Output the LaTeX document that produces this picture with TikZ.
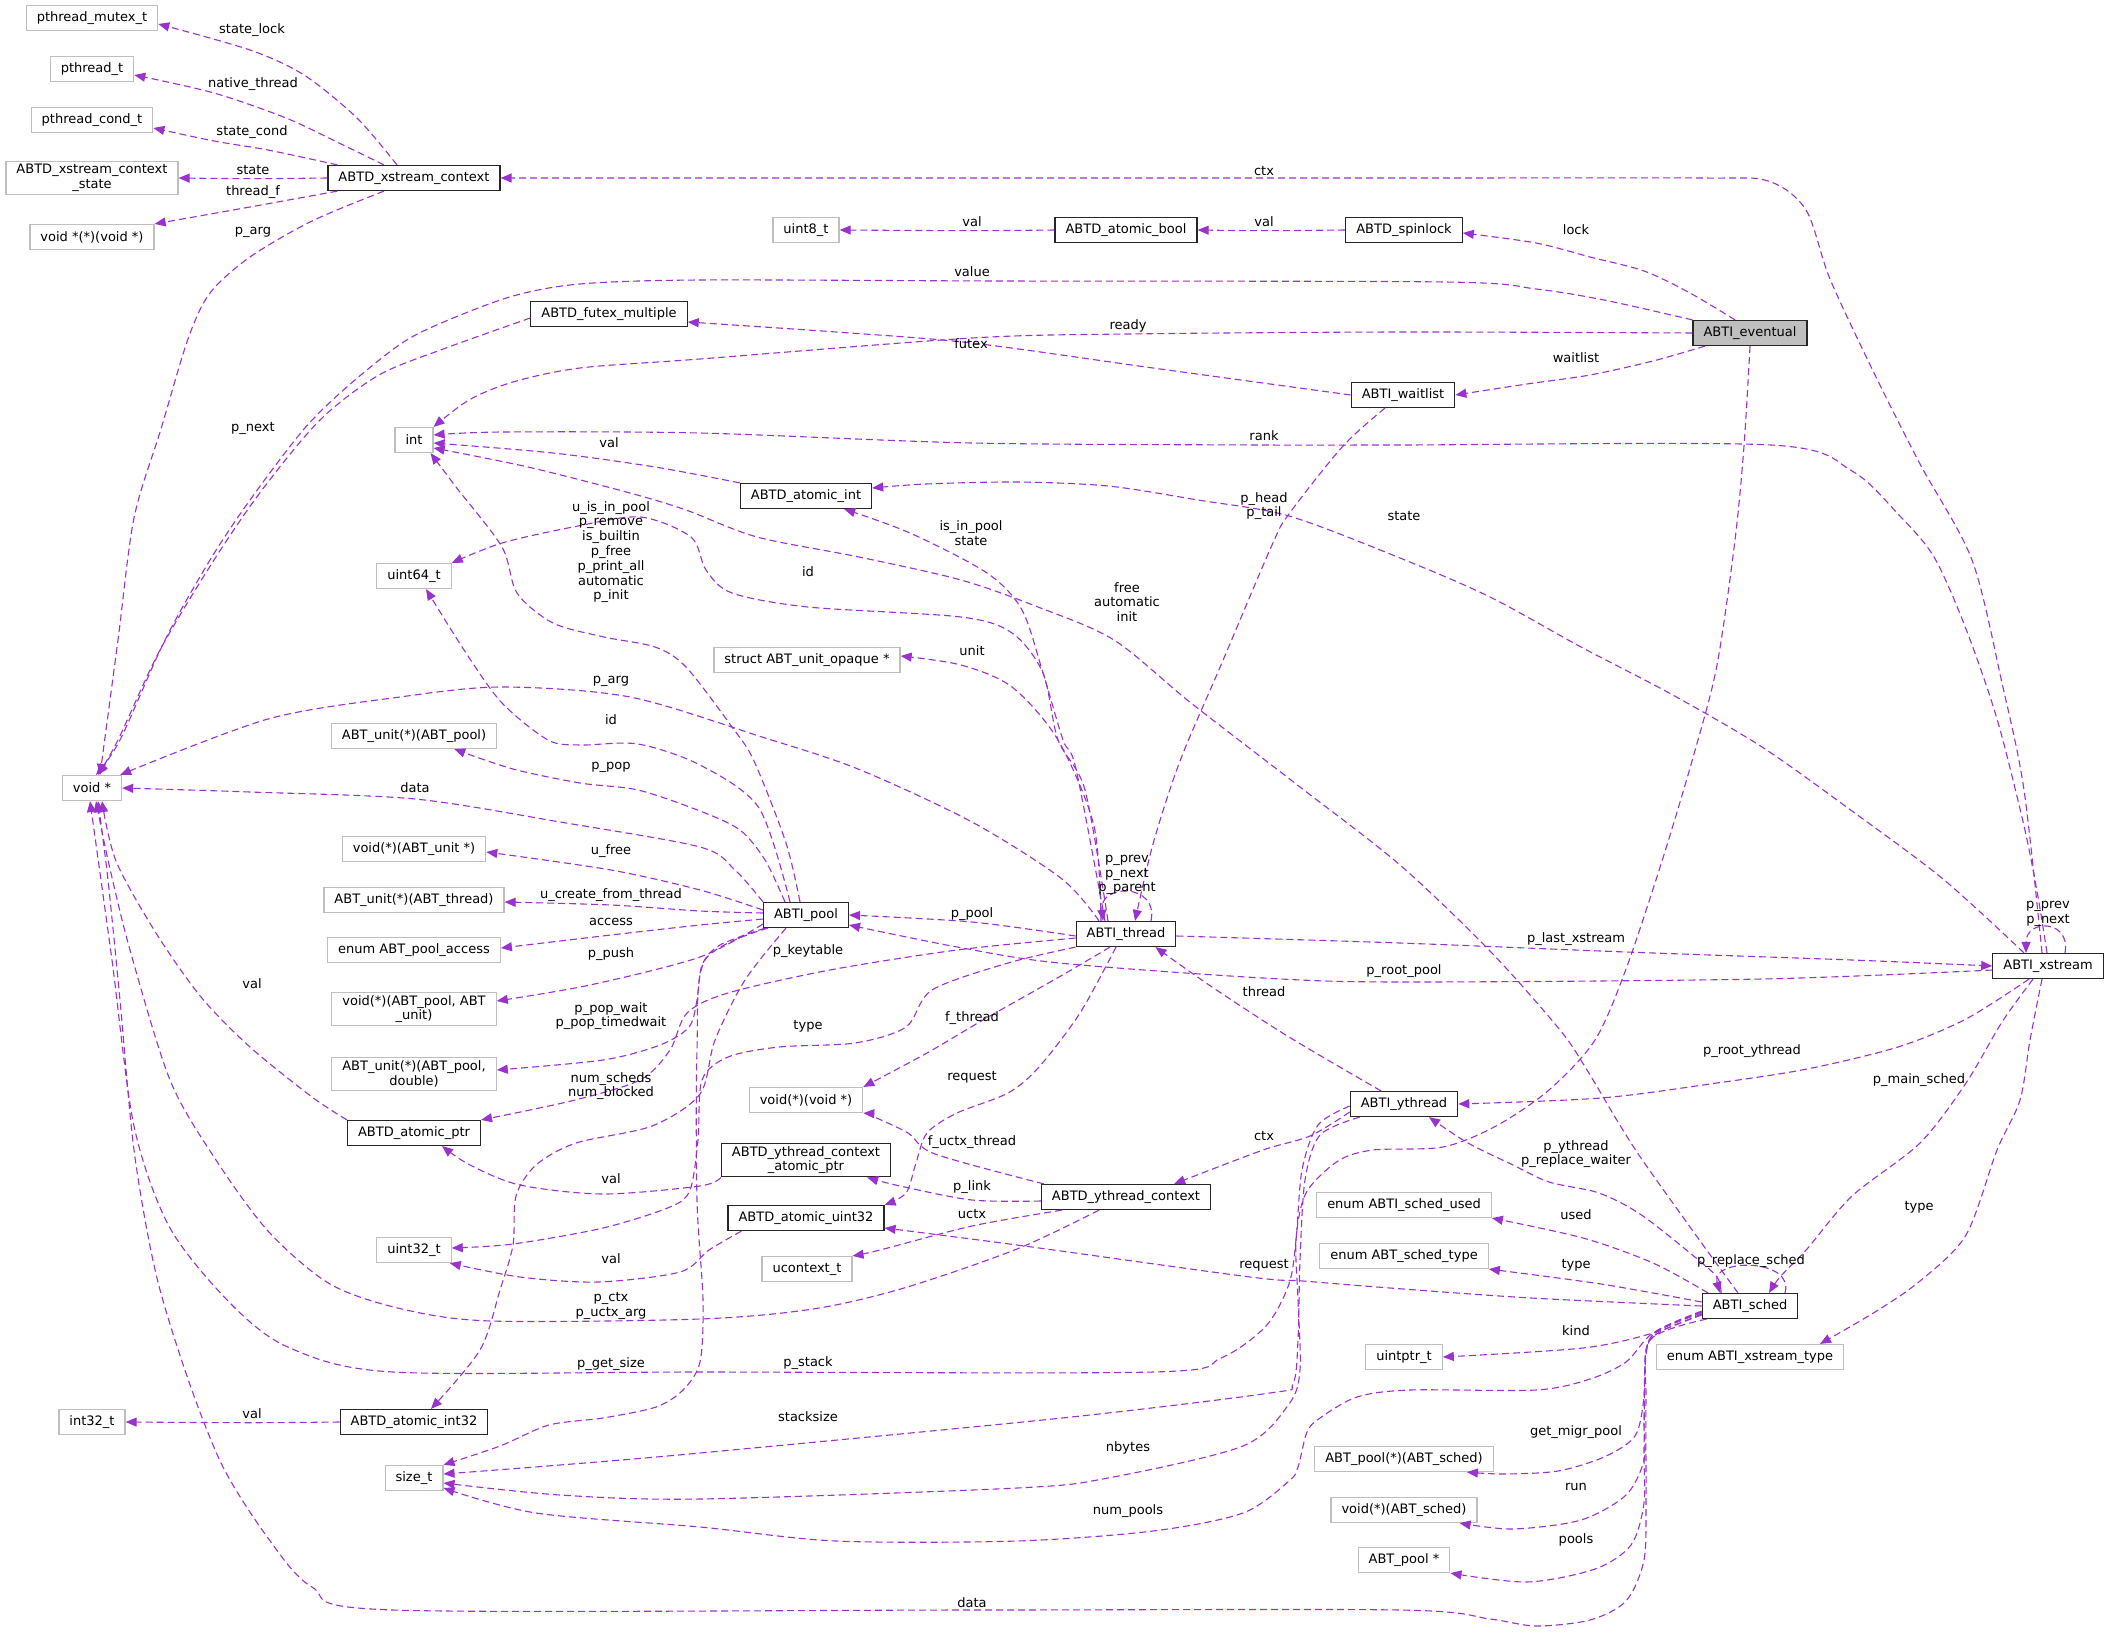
\documentclass[tikz,border=0pt]{standalone}
\usepackage{fontspec}
\setmainfont{DejaVu Sans}
\usepackage{xcolor}
\usepackage{tikz}
\usetikzlibrary{arrows.meta}

\definecolor{edgec}{HTML}{9A32CD}
\definecolor{grayb}{HTML}{BFBFBF}
\newcommand{\dxfont}{\fontsize{13pt}{14.8pt}\selectfont}

\tikzset{
  cls/.style={draw=black!85, line width=1.2pt, fill=white, font=\dxfont, align=center,
    minimum height=25pt, inner xsep=10.5pt, inner ysep=3pt},
  ext/.style={cls, draw=grayb},
  focus/.style={cls, fill=grayb},
  lbl/.style={font=\dxfont, align=center, inner sep=0pt},
  mem/.style={draw=edgec, line width=1.1pt, dash pattern=on 7pt off 4pt,
    -{Triangle[length=11pt,width=9pt]}}
}

\begin{document}
\begin{tikzpicture}[x=1pt, y=-1pt]
  \path[use as bounding box, fill=white] (0,0) rectangle (2109,1632);

  % left column
  \node[ext] (mutex) at (92,18) {pthread\_mutex\_t};
  \node[ext] (pthr) at (92,69) {pthread\_t};
  \node[ext] (cond) at (92,120) {pthread\_cond\_t};
  \node[ext] (xstate) at (92,178) {ABTD\_xstream\_context\\\_state};
  \node[ext] (tfn) at (92,237) {void *(*)(void *)};
  \node[ext] (voidp) at (92,788) {void *};
  \node[ext] (i32) at (92,1422) {int32\_t};

  % second column
  \node[cls] (xctx) at (414,178) {ABTD\_xstream\_context};
  \node[ext] (int) at (414,440) {int};
  \node[ext] (u64) at (414,576) {uint64\_t};
  \node[ext] (fpop) at (414,736) {ABT\_unit(*)(ABT\_pool)};
  \node[ext] (ufree) at (414,849) {void(*)(ABT\_unit *)};
  \node[ext] (ucft) at (414,900) {ABT\_unit(*)(ABT\_thread)};
  \node[ext] (acc) at (414,950) {enum ABT\_pool\_access};
  \node[ext] (push) at (414,1009) {void(*)(ABT\_pool, ABT\\\_unit)};
  \node[ext] (fpw) at (414,1074) {ABT\_unit(*)(ABT\_pool,\\double)};
  \node[cls] (aptr) at (414,1133) {ABTD\_atomic\_ptr};
  \node[ext] (u32) at (414,1250) {uint32\_t};
  \node[cls] (ai32) at (414,1422) {ABTD\_atomic\_int32};
  \node[ext] (size) at (414,1478) {size\_t};
  \node[cls] (futex) at (609,314) {ABTD\_futex\_multiple};

  % third column
  \node[ext] (u8) at (806,230) {uint8\_t};
  \node[cls] (aint) at (806,496) {ABTD\_atomic\_int};
  \node[ext] (unitop) at (807,660) {struct ABT\_unit\_opaque *};
  \node[cls] (pool) at (806,915) {ABTI\_pool};
  \node[ext] (voidv) at (806,1100) {void(*)(void *)};
  \node[cls] (ycap) at (806,1160) {ABTD\_ythread\_context\\\_atomic\_ptr};
  \node[cls] (auint) at (806,1218) {ABTD\_atomic\_uint32};
  \node[ext] (ucon) at (807,1269) {ucontext\_t};

  % fourth column
  \node[cls] (abool) at (1126,230) {ABTD\_atomic\_bool};
  \node[cls] (thread) at (1126,934) {ABTI\_thread};
  \node[cls] (yctx) at (1126,1197) {ABTD\_ythread\_context};

  % fifth column
  \node[cls] (spin) at (1404,230) {ABTD\_spinlock};
  \node[cls] (wait) at (1403,395) {ABTI\_waitlist};
  \node[cls] (ythread) at (1404,1104) {ABTI\_ythread};
  \node[ext] (sused) at (1404,1205) {enum ABTI\_sched\_used};
  \node[ext] (stype) at (1404,1256) {enum ABT\_sched\_type};
  \node[ext] (uptr) at (1404,1357) {uintptr\_t};
  \node[ext] (migr) at (1404,1459) {ABT\_pool(*)(ABT\_sched)};
  \node[ext] (run) at (1404,1510) {void(*)(ABT\_sched)};
  \node[ext] (ppool) at (1404,1560) {ABT\_pool *};

  % right columns
  \node[focus] (evt) at (1750,333) {ABTI\_eventual};
  \node[cls] (sched) at (1750,1306) {ABTI\_sched};
  \node[ext] (xtype) at (1750,1357) {enum ABTI\_xstream\_type};
  \node[cls] (xs) at (2048,966) {ABTI\_xstream};

  % ABTD_xstream_context members
  \draw[mem] plot[smooth] coordinates {([xshift=-17pt]xctx.north) (357,118) (304,75) (250,50) ([yshift=-6pt]mutex.east)};
  \draw[mem] plot[smooth] coordinates {([xshift=-30pt]xctx.north) (339,143) (286,118) (214,93) ([yshift=-6pt]pthr.east)};
  \draw[mem] plot[smooth] coordinates {([xshift=10pt]xctx.north west) (268,150) (214,141) ([yshift=-8pt]cond.east)};
  \draw[mem] plot[smooth] coordinates {(xctx.west) (253,178.7) (xstate.east)};
  \draw[mem] plot[smooth] coordinates {([xshift=10pt]xctx.south west) (250,207) (tfn.north east)};
  \draw[mem] plot[smooth] coordinates {([xshift=-30pt]xctx.south) (312,221) (250,257) (210,293) (188,339) (161,429) (134,518) (118,640) ([xshift=8pt]voidp.north)};

  % futex, spinlock, bool
  \draw[mem] plot[smooth] coordinates {([yshift=-4pt]futex.west) (446,348) (379,375) (320,420) (262,490) (214,560) (160,650) (118,740) ([xshift=6pt]voidp.north)};
  \draw[mem] plot[smooth] coordinates {(spin.west) (1264,230.7) (abool.east)};
  \draw[mem] plot[smooth] coordinates {(abool.west) (972,230.7) (u8.east)};

  % ABTI_eventual members
  \draw[mem] plot[smooth] coordinates {(evt.north west) (1604,300) (1536,289) (1445,282) (1000,281) (700,280) (580,284) (513,296) (446,321) (402,343) (348,386) (304,429) (250,500) (210,560) (165,640) (120,740) ([xshift=4pt]voidp.north)};
  \draw[mem] plot[smooth] coordinates {(evt.west) (1400,332) (1128,334) (972,338) (700,359) (580,368) (513,382) (469,400) (int.north east)};
  \draw[mem] plot[smooth] coordinates {([xshift=-15pt]evt.north) (1690,293) (1644,271) (1590,257) (1536,243) ([yshift=-3pt]spin.east)};
  \draw[mem] plot[smooth] coordinates {([xshift=-45pt]evt.south) (1653,361) (1590,375) (1527,384) (wait.east)};
  \draw[mem] plot[smooth] coordinates {(evt.south) (1744,446) (1735,540) (1717,665) (1694,754) (1662,861) (1626,969) (1595,1040) (1549,1090) (1496,1126) (1443,1147) (1373,1150) (1338,1161) (1306,1193) (1296,1240) (1298,1300) (1300,1370) (1289,1404) (1243,1446) (1108,1478) (1017,1488) (700,1499) (560,1495) ([yshift=-5pt]size.east)};

  % ABTI_waitlist members
  \draw[mem] plot[smooth] coordinates {(wait.west) (1153,368) (972,343) (836,332) ([yshift=-8pt]futex.east)};
  \draw[mem] plot[smooth] coordinates {([xshift=-18pt]wait.south) (1343,446) (1289,514) (1272,545) (1221,665) (1180,761) (1153,844) ([xshift=9pt]thread.north)};

  % ABTD_atomic_int
  \draw[mem] plot[smooth] coordinates {(aint.north west) (655,467) (553,453) ([yshift=-3pt]int.east)};

  % ABTI_xstream members
  \draw[mem] plot[smooth] coordinates {([xshift=-6pt]xs.north) (2024,790) (2002,683) (1972,560) (1920,464) (1875,375) (1830,279) (1806,210) (1768,181) (1700,178) (1400,178) (xctx.east)};
  \draw[mem] plot[smooth] coordinates {([xshift=-1pt]xs.north) (2038,897) (2024,826) (1997,719) (1966,629) (1934,557) (1898,514) (1852,471) (1771,445) (1400,445) (1264,445) (972,443) (700,433) (502,432) ([yshift=5pt]int.east)};
  \draw[mem] plot[smooth] coordinates {([xshift=-24pt]xs.north) (1943,879) (1852,811) (1762,747) (1671,694) (1581,647) (1490,597) (1400,558) (1289,516) (1198,500) (1108,486) (1017,482) (926,484) ([yshift=8pt]aint.east)};
  \draw[mem] ([xshift=17pt]xs.north) .. controls +(6,-34) and +(0,-34) .. ([xshift=-22pt]xs.north);
  \draw[mem] plot[smooth] coordinates {([xshift=-15pt]xs.south) (2002,1022) (1966,1083) (1920,1143) (1852,1196) (1807,1249) (1780,1277) ([xshift=19pt]sched.north)};
  \draw[mem] plot[smooth] coordinates {([xshift=-6pt]xs.south) (2030,1040) (2020,1100) (1997,1150) (1966,1235) (1920,1281) (1875,1312) ([xshift=70pt]xtype.north)};
  \draw[mem] plot[smooth] coordinates {([xshift=-19pt]xs.south) (1966,1019) (1898,1047) (1807,1069) (1717,1083) (1601,1098) (ythread.east)};
  \draw[mem] plot[smooth] coordinates {([yshift=-4pt]xs.west) (1762,979) (1400,982) (1263,978) (1059,963) (957,947) ([yshift=-10pt]pool.east)};

  % ABTI_thread members
  \draw[mem] plot[smooth] coordinates {([yshift=-2pt]thread.east) (1400,943) (1626,952) (1852,960) (xs.west)};
  \draw[mem] ([xshift=25pt]thread.north) .. controls +(8,-38) and +(-4,-38) .. ([xshift=-23pt]thread.north);
  \draw[mem] plot[smooth] coordinates {([yshift=-2pt]thread.west) (972,922) (pool.east)};
  \draw[mem] plot[smooth] coordinates {([xshift=-27pt]thread.north) (1062,879) (972,822) (858,769) (762,737) (630,697) (502,687) (400,697) (268,719) ([xshift=-2pt]voidp.north east)};
  \draw[mem] plot[smooth] coordinates {([xshift=-18pt]thread.north) (1085,790) (1058,740) (1043,673) (1012,633) (961,617) (808,607) (732,593) (706,570) (691,537) (640,517) (573,527) (502,543) (u64.north east)};
  \draw[mem] plot[smooth] coordinates {([xshift=-25pt]thread.north) (1094,826) (1058,740) (1012,687) (961,665) ([yshift=4pt]unitop.east)};
  \draw[mem] plot[smooth] coordinates {([xshift=-21pt]thread.north) (1076,769) (1063,740) (1043,673) (1022,610) (987,573) (910,533) ([xshift=-28pt]aint.south east)};
  \draw[mem] plot[smooth] coordinates {([xshift=-16pt]thread.south) (1059,977) (983,1020) (927,1053) (voidv.north east)};
  \draw[mem] plot[smooth] coordinates {([xshift=-10pt]thread.south) (1080,1013) (1039,1067) (1008,1093) (957,1113) (927,1133) (916,1163) (906,1193) (auint.north east)};
  \draw[mem] plot[smooth] coordinates {([yshift=-4pt]thread.west) (957,950) (830,970) (728,993) (687,1013) (670,1050) (640,1080) (571,1101) (aptr.north east)};
  \draw[mem] plot[smooth] coordinates {(thread.south west) (1008,963) (932,990) (906,1027) (855,1043) (779,1047) (728,1057) (702,1080) (698,1140) (690,1190) (670,1207) (603,1228) (513,1244) ([yshift=2pt]u32.east)};

  % ABTI_pool members
  \draw[mem] plot[smooth] coordinates {([xshift=-6pt]pool.north) (786,843) (754,761) (732,727) (686,667) (655,647) (604,637) (553,623) (517,593) (502,547) (456,487) ([xshift=-3pt]int.south east)};
  \draw[mem] plot[smooth] coordinates {([xshift=-16pt]pool.north) (759,808) (700,765) (638,744) (580,745) (548,740) (502,703) (466,653) ([xshift=12pt]u64.south)};
  \draw[mem] plot[smooth] coordinates {([xshift=-21pt]pool.north) (765,860) (740,830) (700,811) (638,790) (580,783) (513,769) ([xshift=-43pt]fpop.south east)};
  \draw[mem] plot[smooth] coordinates {(pool.north west) (735,870) (700,847) (560,822) (415,799) (250,792) (voidp.east)};
  \draw[mem] plot[smooth] coordinates {([yshift=5pt]pool.west) (700,890) (611,870) ([yshift=-3pt]ufree.east)};
  \draw[mem] plot[smooth] coordinates {([yshift=2pt]pool.west) (700,911) (611,905) ([yshift=-2pt]ucft.east)};
  \draw[mem] plot[smooth] coordinates {([yshift=-4pt]pool.west) (700,925) (611,935) ([yshift=2pt]acc.east)};
  \draw[mem] plot[smooth] coordinates {([yshift=-9pt]pool.west) (700,957) (590,985) ([yshift=8pt]push.east)};
  \draw[mem] plot[smooth] coordinates {([xshift=2pt]pool.south west) (720,945) (702,965) (697,1000) (689,1027) (660,1045) (603,1060) ([yshift=4pt]fpw.east)};
  \draw[mem] plot[smooth] coordinates {([xshift=-20pt]pool.south) (745,980) (715,1040) (700,1094) (652,1126) (576,1143) (536,1165) (516,1196) (513,1245) (500,1290) (480,1350) ([xshift=17pt]ai32.north)};
  \draw[mem] plot[smooth] coordinates {([xshift=5pt]pool.south west) (705,960) (697,1050) (697,1200) (703,1300) (700,1362) (683,1390) (656,1407) (603,1418) (549,1425) (500,1446) (size.north east)};

  % atomic wrappers
  \draw[mem] plot[smooth] coordinates {(ai32.west) (252,1422.7) (i32.east)};
  \draw[mem] plot[smooth] coordinates {(aptr.north west) (312,1097) (250,1047) (201,997) (156,933) (116,861) ([xshift=10pt]voidp.south)};
  \draw[mem] plot[smooth] coordinates {(ycap.south west) (700,1186) (603,1194) (520,1185) (470,1165) ([xshift=28pt]aptr.south)};
  \draw[mem] plot[smooth] coordinates {([xshift=14pt]auint.south west) (709,1250) (680,1272) (598,1282) (520,1277) ([xshift=-2pt]u32.south east)};

  % ABTD_ythread_context members
  \draw[mem] plot[smooth] coordinates {([xshift=3pt]yctx.north west) (935,1154) (908,1133) (872,1116) (voidv.south east)};
  \draw[mem] plot[smooth] coordinates {([yshift=-4pt]yctx.west) (972,1200) (900,1186) ([xshift=-24pt]ycap.south east)};
  \draw[mem] plot[smooth] coordinates {([xshift=21pt]yctx.south west) (972,1226) (880,1250) (ucon.north east)};
  \draw[mem] plot[smooth] coordinates {([xshift=-27pt]yctx.south) (1017,1249) (904,1288) (813,1309) (700,1319) (491,1321) (402,1309) (330,1284) (268,1231) (214,1157) (170,1080) (130,950) (108,860) ([xshift=4pt]voidp.south)};

  % ABTI_ythread members
  \draw[mem] plot[smooth] coordinates {([xshift=-23pt]ythread.north) (1289,1037) (1212,987) ([xshift=-21pt]thread.south east)};
  \draw[mem] plot[smooth] coordinates {([yshift=-8pt]ythread.west) (1310,1136) (1263,1150) ([xshift=-37pt]yctx.north east)};
  \draw[mem] plot[smooth] coordinates {([yshift=-2pt]ythread.west) (1318,1125) (1302,1170) (1296,1240) (1289,1284) (1266,1326) (1221,1358) (1153,1372) (700,1372) (393,1372) (290,1348) (232,1305) (170,1228) (134,1126) (112,960) ([xshift=-2pt]voidp.south)};
  \draw[mem] plot[smooth] coordinates {([xshift=10pt]ythread.south west) (1320,1135) (1305,1180) (1300,1260) (1298,1340) (1293,1384) (1270,1393) (1062,1418) (700,1453) (560,1465) ([yshift=4pt]size.east)};

  % ABTI_sched members
  \draw[mem] plot[smooth] coordinates {([xshift=-29pt]sched.north) (1717,1277) (1690,1253) (1640,1214) (1599,1193) (1549,1182) (1513,1165) (1468,1143) ([xshift=25pt]ythread.south)};
  \draw[mem] plot[smooth] coordinates {([xshift=-12pt]sched.north) (1703,1245) (1643,1161) (1618,1122) (1587,1070) (1560,1030) (1490,951) (1400,865) (1300,787) (1191,703) (1114,640) (1038,607) (961,580) (859,557) (757,537) (686,510) (630,493) (528,467) ([yshift=-8pt]int.east)};
  \draw[mem] ([xshift=35pt]sched.north) .. controls +(10,-35) and +(-10,-35) .. ([xshift=-30pt]sched.north);
  \draw[mem] plot[smooth] coordinates {([xshift=-42pt]sched.north) (1653,1263) (1583,1238) (sused.south east)};
  \draw[mem] plot[smooth] coordinates {([yshift=4pt]sched.west) (1601,1284) (stype.south east)};
  \draw[mem] plot[smooth] coordinates {(sched.west) (1531,1298) (1390,1288) (1303,1281) (1250,1277) (1017,1245) ([yshift=-10pt]auint.east)};
  \draw[mem] plot[smooth] coordinates {([yshift=-8pt]sched.west) (1653,1333) (1583,1348) (uptr.east)};
  \draw[mem] plot[smooth] coordinates {([yshift=-6pt]sched.west) (1653,1333) (1626,1362) (1590,1379) (1536,1390) (1410,1390) (1357,1397) (1320,1418) (1307,1432) (1298,1467) (1289,1481) (1243,1513) (1153,1531) (1017,1541) (836,1541) (700,1527) (536,1513) ([yshift=-10pt]size.east)};
  \draw[mem] plot[smooth] coordinates {([yshift=-5pt]sched.west) (1658,1330) (1646,1350) (1644,1397) (1635,1436) (1604,1457) (1558,1471) (1504,1474) ([xshift=-27pt]migr.south east)};
  \draw[mem] plot[smooth] coordinates {([yshift=-7pt]sched.west) (1658,1331) (1646,1352) (1644,1420) (1644,1460) (1626,1495) (1581,1520) (1513,1529) ([xshift=-18pt]run.south east)};
  \draw[mem] plot[smooth] coordinates {([yshift=-9pt]sched.west) (1658,1333) (1646,1355) (1644,1450) (1644,1503) (1631,1545) (1595,1569) (1527,1582) (ppool.south east)};
  \draw[mem] plot[smooth] coordinates {([xshift=5pt]sched.south west) (1650,1340) (1646,1400) (1646,1500) (1644,1560) (1626,1601) (1590,1620) (1536,1626) (1490,1619) (1400,1610) (972,1610) (393,1610) (312,1587) (268,1538) (223,1467) (188,1379) (156,1274) (134,1150) (120,1000) (108,880) ([xshift=6pt]voidp.south)};

  % edge labels
  \node[lbl] (lStateLock) at (252,30) {state\_lock};
  \node[lbl] (lNative) at (253,84) {native\_thread};
  \node[lbl] (lStateCond) at (252,132) {state\_cond};
  \node[lbl] (lState) at (253,170) {state};
  \node[lbl] (lThreadF) at (253,192) {thread\_f};
  \node[lbl] (lParg) at (253,232) {p\_arg};
  \node[lbl] (lPnext) at (253,428) {p\_next};
  \node[lbl] (lCtx) at (1264,171) {ctx};
  \node[lbl] (lValU8) at (972,222) {val};
  \node[lbl] (lValBool) at (1264,222) {val};
  \node[lbl] (lLock) at (1576,230) {lock};
  \node[lbl] (lValue) at (972,272) {value};
  \node[lbl] (lReady) at (1128,326) {ready};
  \node[lbl] (lFutex) at (971,344) {futex};
  \node[lbl] (lWaitlist) at (1576,358) {waitlist};
  \node[lbl] (lValInt) at (609,443) {val};
  \node[lbl] (lRank) at (1264,436) {rank};
  \node[lbl] (lHead) at (1264,506) {p\_head\\p\_tail};
  \node[lbl] (lXsState) at (1404,516) {state};
  \node[lbl] (lInPool) at (971,533) {is\_in\_pool\\state};
  \node[lbl] (lPoolInt) at (611,552) {u\_is\_in\_pool\\p\_remove\\is\_builtin\\p\_free\\p\_print\_all\\automatic\\p\_init};
  \node[lbl] (lIdThr) at (808,572) {id};
  \node[lbl] (lFree) at (1127,602) {free\\automatic\\init};
  \node[lbl] (lUnit) at (972,651) {unit};
  \node[lbl] (lPargThr) at (611,681) {p\_arg};
  \node[lbl] (lIdPool) at (611,720) {id};
  \node[lbl] (lPop) at (611,767) {p\_pop};
  \node[lbl] (lData) at (415,788) {data};
  \node[lbl] (lUfree) at (611,851) {u\_free};
  \node[lbl] (lThrLoop) at (1127,875) {p\_prev\\p\_next\\p\_parent};
  \node[lbl] (lUcft) at (611,895) {u\_create\_from\_thread};
  \node[lbl] (lXsLoop) at (2048,914) {p\_prev\\p\_next};
  \node[lbl] (lPpool) at (972,914) {p\_pool};
  \node[lbl] (lAccess) at (611,922) {access};
  \node[lbl] (lLastXs) at (1576,939) {p\_last\_xstream};
  \node[lbl] (lKeytable) at (808,951) {p\_keytable};
  \node[lbl] (lPush) at (611,954) {p\_push};
  \node[lbl] (lRootPool) at (1404,971) {p\_root\_pool};
  \node[lbl] (lValPtr) at (252,984) {val};
  \node[lbl] (lThread) at (1264,992) {thread};
  \node[lbl] (lPopWait) at (611,1016) {p\_pop\_wait\\p\_pop\_timedwait};
  \node[lbl] (lFthread) at (972,1018) {f\_thread};
  \node[lbl] (lTypeThr) at (808,1026) {type};
  \node[lbl] (lRootYt) at (1752,1051) {p\_root\_ythread};
  \node[lbl] (lReqThr) at (972,1077) {request};
  \node[lbl] (lMainSched) at (1919,1080) {p\_main\_sched};
  \node[lbl] (lNum) at (611,1086) {num\_scheds\\num\_blocked};
  \node[lbl] (lCtxYt) at (1264,1136) {ctx};
  \node[lbl] (lFuctx) at (972,1142) {f\_uctx\_thread};
  \node[lbl] (lWaiter) at (1576,1154) {p\_ythread\\p\_replace\_waiter};
  \node[lbl] (lValYcap) at (611,1179) {val};
  \node[lbl] (lLink) at (972,1187) {p\_link};
  \node[lbl] (lTypeXs) at (1919,1207) {type};
  \node[lbl] (lUctx) at (972,1214) {uctx};
  \node[lbl] (lUsed) at (1576,1215) {used};
  \node[lbl] (lValU32) at (611,1259) {val};
  \node[lbl] (lReplace) at (1751,1261) {p\_replace\_sched};
  \node[lbl] (lTypeSched) at (1576,1265) {type};
  \node[lbl] (lReqSched) at (1264,1265) {request};
  \node[lbl] (lPctx) at (611,1306) {p\_ctx\\p\_uctx\_arg};
  \node[lbl] (lKind) at (1576,1331) {kind};
  \node[lbl] (lGetSize) at (611,1364) {p\_get\_size};
  \node[lbl] (lStack) at (808,1363) {p\_stack};
  \node[lbl] (lValI32) at (252,1414) {val};
  \node[lbl] (lStacksize) at (808,1417) {stacksize};
  \node[lbl] (lMigr) at (1576,1432) {get\_migr\_pool};
  \node[lbl] (lNbytes) at (1128,1448) {nbytes};
  \node[lbl] (lRun) at (1576,1487) {run};
  \node[lbl] (lNumPools) at (1128,1511) {num\_pools};
  \node[lbl] (lPools) at (1576,1540) {pools};
  \node[lbl] (lDataSched) at (972,1603) {data};
\end{tikzpicture}
\end{document}
